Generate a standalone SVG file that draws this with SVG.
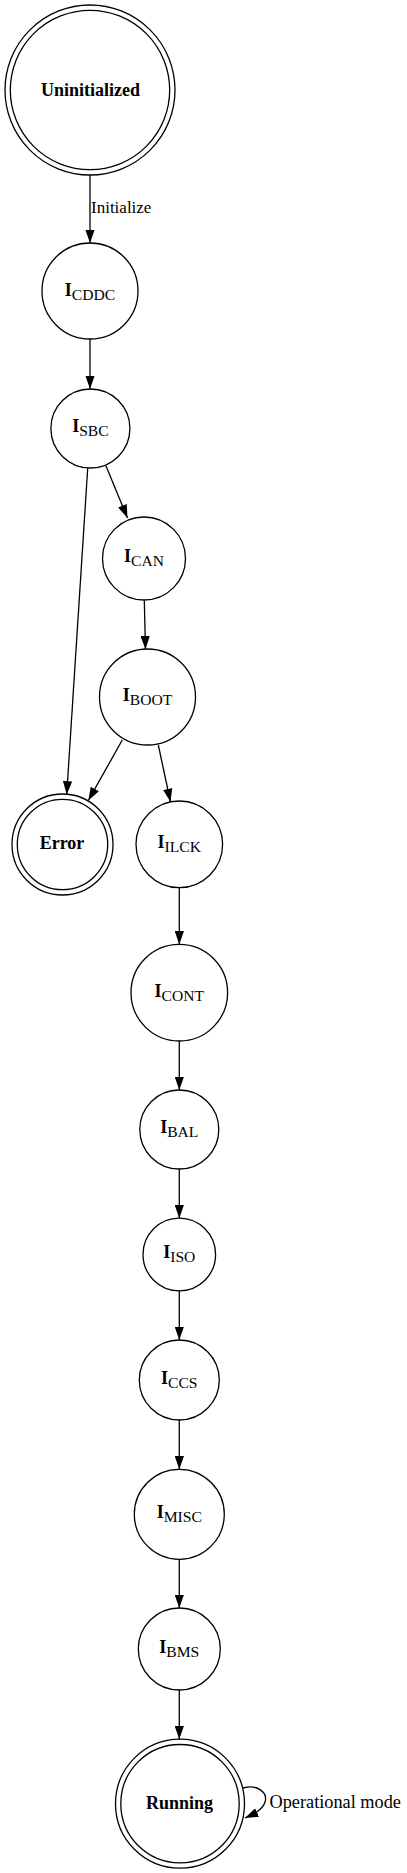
<svg xmlns="http://www.w3.org/2000/svg" width="407" height="1873" viewBox="0 0 407 1873">
<style>
  .n { fill: none; stroke: #000; stroke-width: 1.3; }
  .e { fill: none; stroke: #000; stroke-width: 1.3; marker-end: url(#ah); }
  text { font-family: "Liberation Serif", "Times New Roman", serif; fill: #000; }
  .b { font-weight: bold; font-size: 18px; }
  .sub { font-size: 15.6px; font-weight: normal; }
  .lbl { font-size: 17px; }
</style>
<defs>
  <marker id="ah" viewBox="0 0 10 7" refX="10" refY="3.5" markerWidth="13.3" markerHeight="9.3" markerUnits="userSpaceOnUse" orient="auto">
    <path d="M0,0 L10,3.5 L0,7 z" fill="#000"/>
  </marker>
</defs>
<rect width="407" height="1873" fill="#fff"/>

<g id="connectors">
  <line class="e" x1="90" y1="175" x2="90" y2="243"/>
  <text class="lbl" x="91" y="213">Initialize</text>
  <line class="e" x1="90" y1="339" x2="90" y2="389"/>
  <line class="e" x1="106" y1="466" x2="127.5" y2="518"/>
  <line class="e" x1="87.7" y1="468.3" x2="66.7" y2="794.5"/>
  <line class="e" x1="144.3" y1="600.5" x2="145.5" y2="649.3"/>
  <line class="e" x1="122.3" y1="740" x2="88.3" y2="800.5"/>
  <line class="e" x1="158.3" y1="745" x2="170.5" y2="802"/>
  <line class="e" x1="179.3" y1="887.6" x2="179.3" y2="944.4"/>
  <line class="e" x1="179.3" y1="1041" x2="179.3" y2="1090"/>
  <line class="e" x1="179.3" y1="1169" x2="179.3" y2="1218.2"/>
  <line class="e" x1="179.3" y1="1290.8" x2="179.3" y2="1340"/>
  <line class="e" x1="179.3" y1="1420" x2="179.3" y2="1469.3"/>
  <line class="e" x1="179.3" y1="1559.3" x2="179.3" y2="1608"/>
  <line class="e" x1="179.3" y1="1690" x2="179.3" y2="1739.2"/>
  <path class="e" d="M243,1788 C258,1784 268,1793 265,1802 C263,1809 256,1813 245,1818"/>
  <text class="lbl" x="269.5" y="1808" style="font-size:18.3px">Operational mode</text>
</g>

<g id="Uninitialized">
  <circle class="n" cx="90" cy="90" r="85"/>
  <circle class="n" cx="90" cy="90" r="79.7"/>
  <text class="b" x="90.5" y="95.5" text-anchor="middle">Uninitialized</text>
</g>
<g id="I_CDDC">
  <circle class="n" cx="90" cy="291" r="48"/>
  <text x="90" y="295.5" text-anchor="middle"><tspan class="b">I</tspan><tspan class="sub" dy="4">CDDC</tspan></text>
</g>
<g id="I_SBC">
  <circle class="n" cx="90.4" cy="428.5" r="39.5"/>
  <text x="90.4" y="432" text-anchor="middle"><tspan class="b">I</tspan><tspan class="sub" dy="4">SBC</tspan></text>
</g>
<g id="I_CAN">
  <circle class="n" cx="144" cy="558.5" r="41.5"/>
  <text x="144" y="562" text-anchor="middle"><tspan class="b">I</tspan><tspan class="sub" dy="4">CAN</tspan></text>
</g>
<g id="I_BOOT">
  <circle class="n" cx="147.5" cy="697" r="48"/>
  <text x="147.5" y="700.5" text-anchor="middle"><tspan class="b">I</tspan><tspan class="sub" dy="4">BOOT</tspan></text>
</g>
<g id="Error">
  <circle class="n" cx="62.5" cy="844.5" r="50.5"/>
  <circle class="n" cx="62.5" cy="844.5" r="45.2"/>
  <text class="b" x="62" y="849" text-anchor="middle">Error</text>
</g>
<g id="I_ILCK">
  <circle class="n" cx="179.3" cy="844.3" r="43.3"/>
  <text x="179.3" y="848" text-anchor="middle"><tspan class="b">I</tspan><tspan class="sub" dy="4">ILCK</tspan></text>
</g>
<g id="I_CONT">
  <circle class="n" cx="179.3" cy="992.7" r="48.3"/>
  <text x="179.3" y="996.5" text-anchor="middle"><tspan class="b">I</tspan><tspan class="sub" dy="4">CONT</tspan></text>
</g>
<g id="I_BAL">
  <circle class="n" cx="179.3" cy="1129.5" r="39.5"/>
  <text x="179.3" y="1133" text-anchor="middle"><tspan class="b">I</tspan><tspan class="sub" dy="4">BAL</tspan></text>
</g>
<g id="I_ISO">
  <circle class="n" cx="179.3" cy="1254.5" r="36.3"/>
  <text x="179.3" y="1258" text-anchor="middle"><tspan class="b">I</tspan><tspan class="sub" dy="4">ISO</tspan></text>
</g>
<g id="I_CCS">
  <circle class="n" cx="179.3" cy="1380" r="40"/>
  <text x="179.3" y="1383.5" text-anchor="middle"><tspan class="b">I</tspan><tspan class="sub" dy="4">CCS</tspan></text>
</g>
<g id="I_MISC">
  <circle class="n" cx="179.3" cy="1514.3" r="45"/>
  <text x="179.3" y="1518" text-anchor="middle"><tspan class="b">I</tspan><tspan class="sub" dy="4">MISC</tspan></text>
</g>
<g id="I_BMS">
  <circle class="n" cx="179.3" cy="1649" r="41"/>
  <text x="179.3" y="1652.5" text-anchor="middle"><tspan class="b">I</tspan><tspan class="sub" dy="4">BMS</tspan></text>
</g>
<g id="Running">
  <circle class="n" cx="180" cy="1803.7" r="64.5"/>
  <circle class="n" cx="180" cy="1803.7" r="59.2"/>
  <text class="b" x="179.5" y="1808.5" text-anchor="middle">Running</text>
</g>
</svg>
